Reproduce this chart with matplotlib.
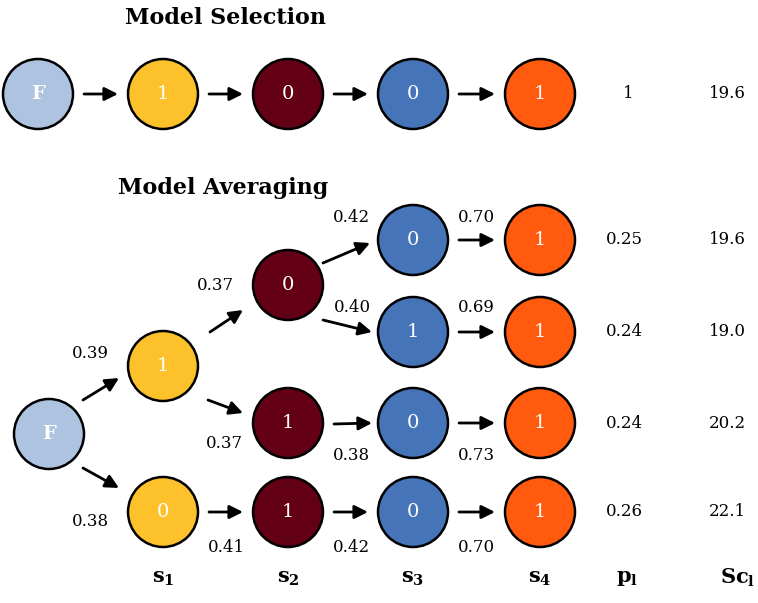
import matplotlib
matplotlib.use("Agg")
import matplotlib.pyplot as plt
from matplotlib.patches import Circle, FancyArrowPatch

# ---- data ----
colors = {"F": "#adc3e0", "s1": "#fdc12b", "s2": "#640015", "s3": "#4674b9", "s4": "#ff5a0e"}

sel_states = ["F", "1", "0", "0", "1"]
sel_p = "1"
sel_sc = "19.6"

# model averaging tree: node name -> (stage, state)
avg_nodes = {
    "F": ("F", "F"),
    "a1": ("s1", "1"), "a0": ("s1", "0"),
    "b0": ("s2", "0"), "b1": ("s2", "1"), "b2": ("s2", "1"),
    "c0": ("s3", "0"), "c1": ("s3", "1"), "c2": ("s3", "0"), "c3": ("s3", "0"),
    "d0": ("s4", "1"), "d1": ("s4", "1"), "d2": ("s4", "1"), "d3": ("s4", "1"),
}
avg_edges = [("F", "a1"), ("F", "a0"), ("a1", "b0"), ("a1", "b1"), ("a0", "b2"),
             ("b0", "c0"), ("b0", "c1"), ("b1", "c2"), ("b2", "c3"),
             ("c0", "d0"), ("c1", "d1"), ("c2", "d2"), ("c3", "d3")]
edge_probs = ["0.39", "0.38", "0.37", "0.37", "0.41", "0.42", "0.40", "0.38", "0.42",
              "0.70", "0.69", "0.73", "0.70"]
path_p = ["0.25", "0.24", "0.24", "0.26"]
path_sc = ["19.6", "19.0", "20.2", "22.1"]
bottom_labels = [r"$\mathbf{s_1}$", r"$\mathbf{s_2}$", r"$\mathbf{s_3}$", r"$\mathbf{s_4}$",
                 r"$\mathbf{p_l}$", r"$\mathbf{Sc_l}$"]

# ---- layout (pixel coords) ----
R = 35
sel_x = [38, 163, 288, 413, 540]
sel_y = 94
pos = {"F": (49, 434), "a1": (163, 366), "a0": (163, 512),
       "b0": (288, 285), "b1": (288, 423), "b2": (288, 512),
       "c0": (413, 240), "c1": (413, 332), "c2": (413, 423), "c3": (413, 512),
       "d0": (540, 240), "d1": (540, 332), "d2": (540, 423), "d3": (540, 512)}
# arrow tail offset from source centre, head offset from target centre
arrow_tail = [(34, -34), (34, 34), (47, -34), (45, 34), (46, 0),
              (35, -22), (35, 35), (46, 1), (46, 0),
              (46, 0), (46, 0), (46, 0), (46, 0)]
arrow_head = [(-44, 12), (-44, -24), (-45, 25), (-45, -10), (-45, 0),
              (-43, 3), (-41, 0), (-41, 0), (-45, 0),
              (-45, 0), (-45, 0), (-45, 0), (-45, 0)]
label_pos = [(90, 353), (90, 522), (215, 285), (224, 443), (226, 548),
             (351, 217), (352, 308), (351, 455), (351, 548),
             (476, 217), (476, 308), (476, 455), (476, 548)]
col_p, col_sc = 624, 727

plt.rcParams["mathtext.fontset"] = "dejavuserif"
serif = "DejaVu Serif"

fig = plt.figure(figsize=(7.58, 6.03), dpi=100)
ax = fig.add_axes([0, 0, 1, 1])
ax.set_xlim(0, 758)
ax.set_ylim(603, 0)
ax.axis("off")


def node(x, y, stage, label):
    ax.add_patch(Circle((x, y), R, facecolor=colors[stage], edgecolor="black", lw=1.8, zorder=2))
    ax.text(x, y, label, ha="center", va="center", color="white", fontsize=14,
            family=serif, fontweight="bold" if label == "F" else "normal", zorder=3)


def arrow(start, end):
    ax.add_patch(FancyArrowPatch(start, end, arrowstyle="-|>", mutation_scale=20,
                                 lw=2, color="black", shrinkA=0, shrinkB=0))


# model selection row
ax.text(125, 18, "Model Selection", fontsize=16, fontweight="bold", family=serif,
        ha="left", va="center")
stages = ["F", "s1", "s2", "s3", "s4"]
for i, st in enumerate(sel_states):
    node(sel_x[i], sel_y, stages[i], st)
    if i > 0:
        arrow((sel_x[i - 1] + 46, sel_y), (sel_x[i] - 45, sel_y))
ax.text(col_p + 4, sel_y, sel_p, fontsize=12, family=serif, ha="center", va="center")
ax.text(col_sc, sel_y, sel_sc, fontsize=12, family=serif, ha="center", va="center")

# model averaging tree
ax.text(118, 188, "Model Averaging", fontsize=16, fontweight="bold", family=serif,
        ha="left", va="center")
for name, (st, lab) in avg_nodes.items():
    node(pos[name][0], pos[name][1], st, lab)
for (a, b), pr, lp, t, h in zip(avg_edges, edge_probs, label_pos, arrow_tail, arrow_head):
    sx, sy = pos[a]
    tx, ty = pos[b]
    arrow((sx + t[0], sy + t[1]), (tx + h[0], ty + h[1]))
    ax.text(lp[0], lp[1], pr, fontsize=12, family=serif, ha="center", va="center")

for k, (p, sc) in enumerate(zip(path_p, path_sc)):
    y = pos["d%d" % k][1]
    ax.text(col_p, y, p, fontsize=12, family=serif, ha="center", va="center")
    ax.text(col_sc, y, sc, fontsize=12, family=serif, ha="center", va="center")

for x, lab in zip([163, 288, 413, 540, 627, 738], bottom_labels):
    ax.text(x, 578, lab, fontsize=15, ha="center", va="center")

fig.savefig("out.png", dpi=100)
